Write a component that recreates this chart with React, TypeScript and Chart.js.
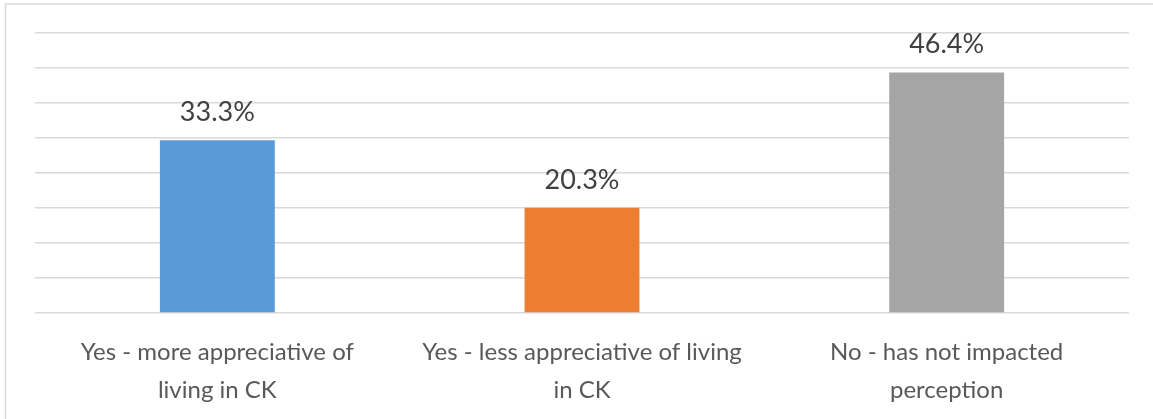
import React, { useEffect, useRef } from "react";
import { Chart, registerables } from "chart.js";

Chart.register(...registerables);

const categories: string[][] = [
  ["Yes - more appreciative of", "living in CK"],
  ["Yes - less appreciative of living", "in CK"],
  ["No - has not impacted", "perception"],
];
const values: number[] = [33.3, 20.3, 46.4];
const valueLabels: string[] = ["33.3%", "20.3%", "46.4%"];
const barColors: string[] = ["#5B9BD5", "#ED7D31", "#A5A5A5"];
const axisMax = 54;
const axisStep = 6.75;

const FONT = "Lato, 'Open Sans', sans-serif";

const decorPlugin = {
  id: "decor",
  afterDatasetsDraw(chart: any) {
    const ctx = chart.ctx;
    const meta = chart.getDatasetMeta(0);
    ctx.save();
    ctx.font = `27px ${FONT}`;
    ctx.fillStyle = "#404040";
    ctx.textAlign = "center";
    ctx.textBaseline = "alphabetic";
    meta.data.forEach((bar: any, i: number) => {
      ctx.fillText(valueLabels[i], bar.x, bar.y - 19);
    });
    ctx.restore();
  },
  afterDraw(chart: any) {
    const ctx = chart.ctx;
    ctx.save();
    ctx.strokeStyle = "#d9d9d9";
    ctx.lineWidth = 1.5;
    ctx.beginPath();
    ctx.moveTo(5.5, 419);
    ctx.lineTo(5.5, 4);
    ctx.lineTo(1153, 4);
    ctx.stroke();
    ctx.restore();
  },
};

export default function App() {
  const ref = useRef<HTMLCanvasElement | null>(null);
  useEffect(() => {
    if (!ref.current) return;
    const chart = new Chart(ref.current, {
      type: "bar",
      data: {
        labels: categories,
        datasets: [
          {
            data: values,
            backgroundColor: barColors,
            barPercentage: 0.315,
            categoryPercentage: 1,
          },
        ],
      },
      options: {
        animation: false,
        responsive: false,
        maintainAspectRatio: false,
        layout: { padding: { left: 0, right: 24, top: 33, bottom: 0 } },
        plugins: { legend: { display: false }, tooltip: { enabled: false } },
        scales: {
          x: {
            grid: { display: false, drawTicks: false },
            border: { display: false },
            ticks: {
              padding: 20,
              color: "#595959",
              font: { family: FONT, size: 24, lineHeight: 38 / 24 },
              maxRotation: 0,
              autoSkip: false,
            },
            afterFit: (scale: any) => {
              scale.height = 106;
            },
          },
          y: {
            min: 0,
            max: axisMax,
            grid: { color: "#d9d9d9", lineWidth: 1.5, drawTicks: false },
            border: { display: false },
            ticks: { display: false, stepSize: axisStep },
            afterFit: (scale: any) => {
              scale.width = 35;
            },
          },
        },
      },
      plugins: [decorPlugin],
    });
    return () => chart.destroy();
  }, []);
  return (
    <div style={{ position: "fixed", left: 0, top: 0, width: 1153, height: 419, background: "#fff" }}>
      <canvas ref={ref} width={1153} height={419} style={{ width: 1153, height: 419 }} />
    </div>
  );
}
